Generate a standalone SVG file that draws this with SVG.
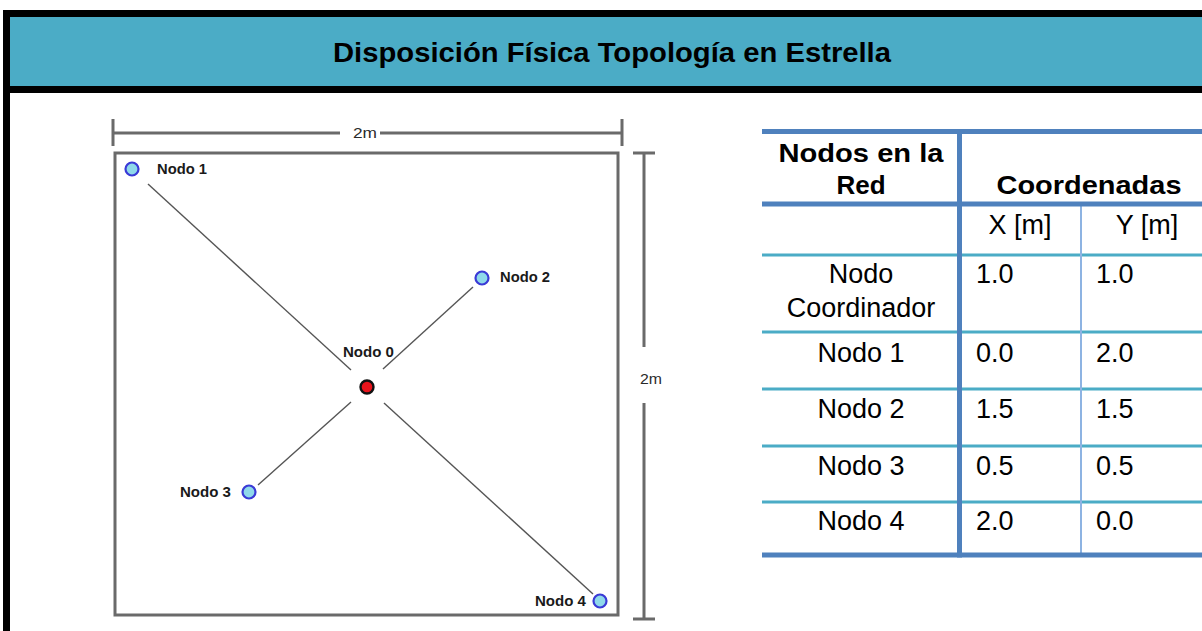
<svg xmlns="http://www.w3.org/2000/svg" width="1202" height="631" viewBox="0 0 1202 631">
<style>
.dim{stroke:#6a6a6a;stroke-width:3;fill:none}
.dimt{font-family:"Liberation Sans",Arial,sans-serif;font-size:15px;fill:#2a2a2a}
.link{stroke:#555;stroke-width:1.4}
.nd{fill:#8fd9ea;stroke:#3a3ad6;stroke-width:2.2}
.nl{font-family:"Liberation Sans",Arial,sans-serif;font-size:15px;font-weight:bold;fill:#1a1a1a}
.th{stroke:#4f81bd;stroke-width:5}
.tl{stroke:#4bacc6;stroke-width:3}
.tv{stroke:#8db3e2;stroke-width:2}
.hb{font-family:"Liberation Sans",Arial,sans-serif;font-size:26px;font-weight:bold;fill:#000}
.tx{font-family:"Liberation Sans",Arial,sans-serif;font-size:27px;fill:#000}
</style>
<rect width="1202" height="631" fill="#fff"/>
<g id="frame">
<rect x="3" y="10" width="1199" height="83" fill="#000"/>
<rect x="3" y="10" width="7" height="621" fill="#000"/>
<rect x="10" y="17" width="1192" height="69" fill="#4bacc6"/>
<text x="612" y="62" text-anchor="middle" font-family="Liberation Sans, Arial, sans-serif" font-size="27" font-weight="bold" textLength="558" lengthAdjust="spacingAndGlyphs">Disposición Física Topología en Estrella</text>
</g>
<g id="layout">
<rect x="115" y="153" width="503" height="462" class="dim"/>
<path class="dim" d="M113 119V146M113 133H340M380 133H622M622 119V146"/>
<text class="dimt" x="353" y="138" textLength="24" lengthAdjust="spacingAndGlyphs">2m</text>
<path class="dim" d="M633 153H655M644 153V347M644 403V619M633 619H655"/>
<text class="dimt" x="640" y="384" textLength="22" lengthAdjust="spacingAndGlyphs">2m</text>
</g>
<g id="connectors">
<line class="link" x1="148" y1="184" x2="351" y2="370"/>
<line class="link" x1="383" y1="369" x2="473" y2="287"/>
<line class="link" x1="351" y1="402" x2="258" y2="485"/>
<line class="link" x1="384" y1="403" x2="593" y2="594"/>
</g>
<g id="nodo0">
<circle cx="367" cy="387" r="6.5" fill="#e8141c" stroke="#111" stroke-width="2.4"/>
<text class="nl" x="343" y="357" textLength="51" lengthAdjust="spacingAndGlyphs">Nodo 0</text>
</g>
<g id="nodo1">
<circle class="nd" cx="132" cy="169" r="6.5"/>
<text class="nl" x="157" y="174" textLength="50" lengthAdjust="spacingAndGlyphs">Nodo 1</text>
</g>
<g id="nodo2">
<circle class="nd" cx="482" cy="278" r="6.5"/>
<text class="nl" x="500" y="282" textLength="50" lengthAdjust="spacingAndGlyphs">Nodo 2</text>
</g>
<g id="nodo3">
<circle class="nd" cx="249" cy="492" r="6.5"/>
<text class="nl" x="180" y="497" textLength="51" lengthAdjust="spacingAndGlyphs">Nodo 3</text>
</g>
<g id="nodo4">
<circle class="nd" cx="600" cy="601" r="6.5"/>
<text class="nl" x="535" y="606" textLength="51" lengthAdjust="spacingAndGlyphs">Nodo 4</text>
</g>
<g id="table">
<line class="tl" x1="762" y1="255" x2="1202" y2="255"/>
<line class="tl" x1="762" y1="332" x2="1202" y2="332"/>
<line class="tl" x1="762" y1="389" x2="1202" y2="389"/>
<line class="tl" x1="762" y1="446" x2="1202" y2="446"/>
<line class="tl" x1="762" y1="502" x2="1202" y2="502"/>
<line class="tv" x1="1081" y1="204" x2="1081" y2="555"/>
<line class="th" x1="762" y1="131.5" x2="1202" y2="131.5"/>
<line class="th" x1="762" y1="204" x2="1202" y2="204"/>
<line class="th" x1="762" y1="555" x2="1202" y2="555"/>
<line class="th" x1="959.5" y1="129" x2="959.5" y2="557.5"/>
<text class="hb" x="861" y="162" text-anchor="middle" textLength="165" lengthAdjust="spacingAndGlyphs">Nodos en la</text>
<text class="hb" x="861" y="194" text-anchor="middle">Red</text>
<text class="hb" x="1089" y="194" text-anchor="middle" textLength="185" lengthAdjust="spacingAndGlyphs">Coordenadas</text>
<text class="tx" x="1020" y="234" text-anchor="middle">X [m]</text>
<text class="tx" x="1147" y="234" text-anchor="middle">Y [m]</text>
<text class="tx" x="861" y="283" text-anchor="middle">Nodo</text>
<text class="tx" x="861" y="317" text-anchor="middle">Coordinador</text>
<text class="tx" x="976" y="283">1.0</text>
<text class="tx" x="1096" y="283">1.0</text>
<text class="tx" x="861" y="362" text-anchor="middle">Nodo 1</text>
<text class="tx" x="976" y="362">0.0</text>
<text class="tx" x="1096" y="362">2.0</text>
<text class="tx" x="861" y="418" text-anchor="middle">Nodo 2</text>
<text class="tx" x="976" y="418">1.5</text>
<text class="tx" x="1096" y="418">1.5</text>
<text class="tx" x="861" y="475" text-anchor="middle">Nodo 3</text>
<text class="tx" x="976" y="475">0.5</text>
<text class="tx" x="1096" y="475">0.5</text>
<text class="tx" x="861" y="530" text-anchor="middle">Nodo 4</text>
<text class="tx" x="976" y="530">2.0</text>
<text class="tx" x="1096" y="530">0.0</text>
</g>
</svg>
